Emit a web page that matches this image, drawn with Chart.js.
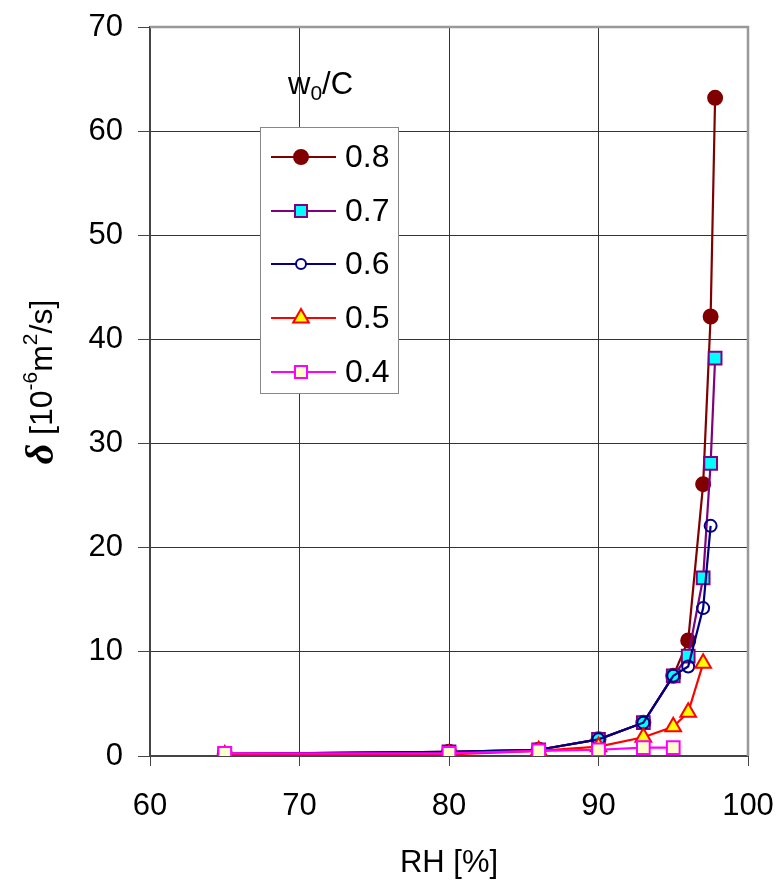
<!DOCTYPE html>
<html>
<head>
<meta charset="utf-8">
<script src="https://cdn.jsdelivr.net/npm/chart.js@4/dist/chart.umd.min.js"></script>
<style>
  html, body { margin: 0; padding: 0; background: #fff; }
  #wrap { width: 776px; height: 882px; position: relative; }
</style>
</head>
<body>
<div id="wrap"><canvas id="chart"></canvas></div>
<script>
// RH [%] values per series
const rh08 = [65, 80, 86, 90, 93, 95, 96, 97, 97.5, 97.8];
const rh07 = [65, 80, 86, 90, 93, 95, 96, 97, 97.5, 97.8];
const rh06 = [65, 80, 86, 90, 93, 95, 96, 97, 97.5];
const rh05 = [65, 80, 86, 90, 93, 95, 96, 97];
const rh04 = [65, 80, 86, 90, 93, 95];

// delta [10^-6 m2/s]
const d08 = [0.2, 0.4, 0.6, 1.6, 3.2, 7.7, 11.1, 26.1, 42.2, 63.2];
const d07 = [0.2, 0.4, 0.6, 1.6, 3.2, 7.7, 9.6, 17.1, 28.1, 38.2];
const d06 = [0.2, 0.4, 0.6, 1.6, 3.2, 7.7, 8.6, 14.2, 22.1];
const d05 = [0.1, 0.15, 0.5, 0.9, 1.8, 2.8, 4.2, 8.9];
const d04 = [0.25, 0.25, 0.5, 0.6, 0.8, 0.8];

const seriesLabels = ["0.8", "0.7", "0.6", "0.5", "0.4"];
const xTicks = [60, 70, 80, 90, 100];
const yTicks = [0, 10, 20, 30, 40, 50, 60, 70];

const FONT = "'Liberation Sans', Arial, sans-serif";

function pts(xs, ys) {
  return xs.map((x, i) => ({ x, y: ys[i] }));
}

const styles = [
  { color: "#800000", fill: "#800000", style: "circle", r: 7, lr: 7, order: 5 },
  { color: "#800080", fill: "#00FFFF", style: "rect", r: 9, lr: 8.5, order: 4 },
  { color: "#000080", fill: "rgba(0,0,0,0)", style: "circle", r: 6, lr: 5, order: 3 },
  { color: "#FF0000", fill: "#FFFF00", style: "triangle", r: 9, lr: 9, order: 2 },
  { color: "#FF00FF", fill: "#FFFFCC", style: "rect", r: 9, lr: 8.5, order: 1 },
];

const allData = [pts(rh08, d08), pts(rh07, d07), pts(rh06, d06), pts(rh05, d05), pts(rh04, d04)];

const datasets = allData.map((data, i) => ({
  label: seriesLabels[i],
  data,
  borderColor: styles[i].color,
  backgroundColor: styles[i].fill,
  pointBorderColor: styles[i].color,
  pointBackgroundColor: styles[i].fill,
  pointStyle: styles[i].style,
  pointRadius: styles[i].r,
  pointBorderWidth: 2,
  borderWidth: 2.2,
  showLine: true,
  tension: 0,
  order: styles[i].order,
}));

// legend box inside the plot, y title, plot frame
const decor = {
  id: "decor",
  beforeDatasetsDraw(chart) {
    const { ctx, chartArea: a } = chart;
    ctx.save();
    ctx.strokeStyle = "#999";
    ctx.lineWidth = 2.5;
    ctx.beginPath();
    ctx.moveTo(a.left, a.top);
    ctx.lineTo(a.right, a.top);
    ctx.lineTo(a.right, a.bottom);
    ctx.stroke();
    ctx.restore();
  },
  afterDraw(chart) {
    const { ctx } = chart;
    ctx.save();
    // legend title w0/C
    ctx.fillStyle = "#000";
    ctx.textBaseline = "alphabetic";
    ctx.font = "31px " + FONT;
    ctx.fillText("w", 288, 94);
    let wx = 288 + ctx.measureText("w").width;
    ctx.font = "21px " + FONT;
    ctx.fillText("0", wx, 100);
    wx += ctx.measureText("0").width;
    ctx.font = "31px " + FONT;
    ctx.fillText("/C", wx, 94);

    // legend box
    const bx = 260, by = 127, bw = 138, bh = 266;
    ctx.fillStyle = "#fff";
    ctx.fillRect(bx, by, bw, bh);
    ctx.strokeStyle = "#888";
    ctx.lineWidth = 1;
    ctx.strokeRect(bx + 0.5, by + 0.5, bw, bh);

    const rows = [157, 211, 264, 318, 372];
    chart.data.datasets.forEach((ds, i) => {
      const y = rows[i];
      ctx.strokeStyle = ds.borderColor;
      ctx.lineWidth = 2.2;
      ctx.beginPath();
      ctx.moveTo(271, y);
      ctx.lineTo(336, y);
      ctx.stroke();
      ctx.fillStyle = ds.pointBackgroundColor === "rgba(0,0,0,0)" ? "#fff" : ds.pointBackgroundColor;
      ctx.strokeStyle = ds.pointBorderColor;
      ctx.lineWidth = 2;
      Chart.helpers.drawPoint(ctx, { pointStyle: ds.pointStyle, radius: styles[i].lr, borderWidth: 2 }, 301, y);
      ctx.fillStyle = "#000";
      ctx.font = "32px " + FONT;
      ctx.textBaseline = "middle";
      ctx.fillText(ds.label, 345, y + 1);
    });

    // y axis title, rotated
    ctx.translate(43, 382);
    ctx.rotate(-Math.PI / 2);
    ctx.textBaseline = "middle";
    ctx.fillStyle = "#000";
    const parts = [
      { t: "\u03B4", f: "bold italic 40px 'Liberation Serif', serif", dy: 0 },
      { t: " [10", f: "32px " + FONT, dy: 0 },
      { t: "-6", f: "21px " + FONT, dy: -12 },
      { t: "m", f: "32px " + FONT, dy: 0 },
      { t: "2", f: "21px " + FONT, dy: -12 },
      { t: "/s]", f: "32px " + FONT, dy: 0 },
    ];
    let total = 0;
    parts.forEach((p) => { ctx.font = p.f; total += ctx.measureText(p.t).width; });
    let x = -total / 2;
    parts.forEach((p) => {
      ctx.font = p.f;
      ctx.fillText(p.t, x, p.dy);
      x += ctx.measureText(p.t).width;
    });
    ctx.restore();
  },
};

new Chart(document.getElementById("chart"), {
  type: "scatter",
  data: { datasets },
  options: {
    responsive: true,
    maintainAspectRatio: false,
    animation: false,
    layout: { padding: { top: 27, right: 28, left: 0, bottom: 0 } },
    plugins: {
      legend: { display: false },
      tooltip: { enabled: false },
    },
    scales: {
      x: {
        type: "linear",
        min: 60,
        max: 100,
        afterFit(scale) {
          scale.height = 126;
          scale.paddingLeft = 0;
          scale.paddingRight = 0;
        },
        afterBuildTicks(scale) { scale.ticks = xTicks.map((v) => ({ value: v })); },
        ticks: {
          color: "#000",
          font: { family: FONT, size: 31 },
          padding: 22,
        },
        grid: {
          color: "#333",
          lineWidth: 1,
          drawTicks: true,
          tickLength: 10,
          tickColor: "#444",
        },
        border: { color: "#444", width: 2 },
        title: {
          display: true,
          text: "RH [%]",
          color: "#000",
          font: { family: FONT, size: 31 },
          padding: { top: 0, bottom: 0 },
        },
      },
      y: {
        type: "linear",
        min: 0,
        max: 70,
        afterFit(scale) {
          scale.width = 150;
          scale.paddingTop = 0;
          scale.paddingBottom = 0;
        },
        afterBuildTicks(scale) { scale.ticks = yTicks.map((v) => ({ value: v })); },
        ticks: {
          color: "#000",
          font: { family: FONT, size: 31 },
          padding: 15,
        },
        grid: {
          color: "#333",
          lineWidth: 1,
          drawTicks: true,
          tickLength: 12,
          tickColor: "#444",
        },
        border: { color: "#444", width: 2 },
      },
    },
  },
  plugins: [decor],
});
</script>
</body>
</html>
